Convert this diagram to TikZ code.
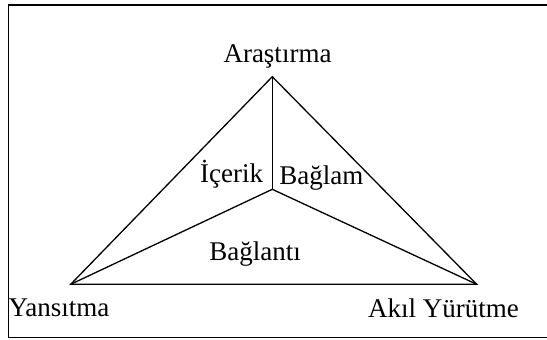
\documentclass[tikz,border=0pt]{standalone}
\usepackage{fontspec}
\setmainfont{Liberation Serif}

\tikzset{
  lbl/.style={inner sep=0pt, anchor=base, font=\fontsize{27}{32}\selectfont},
  edge/.style={line width=1.3pt, line join=miter},
}

\begin{document}
\begin{tikzpicture}[x=1pt, y=-1pt]
    \useasboundingbox (0, 0) rectangle (547, 340);
    % frame, right side runs off the page
    \draw[line width=1.5pt] (550, 5) -- (8.5, 5) -- (8.5, 337.5) -- (550, 337.5);

    \coordinate (top) at (272.3, 76.7);
    \coordinate (mid) at (272.3, 189.3);
    \coordinate (left) at (70.7, 284.3);
    \coordinate (right) at (476.7, 284.3);

    \draw[edge] (top) -- (left) -- (right) -- cycle;
    \foreach \v in {top, left, right} {
      \draw[edge] (mid) -- (\v);
      }

    \node[lbl] (arastirma) at (277.5, 63) {Araştırma};
    \node[lbl] (yansitma) at (59, 316) {Yansıtma};
    \node[lbl, anchor=base east] (akil) at (519, 317) {Akıl Yürütme};
    \node[lbl] (icerik) at (231.7, 182) {İçerik};
    \node[lbl] (baglam) at (321.3, 184) {Bağlam};
    \node[lbl] (baglanti) at (255, 260) {Bağlantı};
  \end{tikzpicture}
\end{document}
